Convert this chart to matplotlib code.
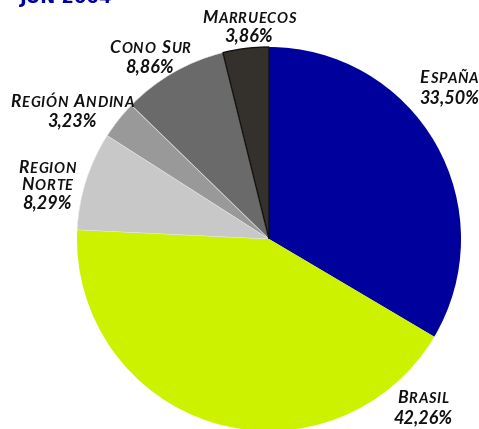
import matplotlib
matplotlib.use("Agg")
import matplotlib.pyplot as plt

categories = ["España", "Brasil", "Region Norte", "Región Andina", "Cono Sur", "Marruecos"]
values = [33.50, 42.26, 8.29, 3.23, 8.86, 3.86]
value_labels = ["33,50%", "42,26%", "8,29%", "3,23%", "8,86%", "3,86%"]
label_lines = [["España"], ["Brasil"], ["Region", "Norte"], ["Región Andina"], ["Cono Sur"], ["Marruecos"]]
colors = ["#00009C", "#CCF200", "#C8C8C8", "#999999", "#6A6A6A", "#34302C"]
title = "JUN 2004"

W, H = 479, 429
fig = plt.figure(figsize=(W / 100, H / 100), dpi=100)
ax = fig.add_axes([0, 0, 1, 1])

cx, cy, R = 269, H - 239, 192
wedges, _ = ax.pie(values, colors=colors, startangle=90, counterclock=False,
                   center=(cx, cy), radius=R, frame=True,
                   wedgeprops=dict(edgecolor="#e8e8e8", linewidth=0.4))
wedges[0].set_edgecolor("none")
wedges[1].set_edgecolor("none")
wedges[-1].set_edgecolor("#111111")
wedges[-1].set_linewidth(1.0)
ax.set_xlim(0, W)
ax.set_ylim(0, H)
ax.set_aspect("auto")
ax.axis("off")

FONT = "Lato"
renderer = fig.canvas.get_renderer()


def smallcaps(xc, y, s, big=12.5, small=10.5, track=0.7):
    texts = []
    x = 0.0
    for ch in s:
        if ch.isalpha() and not ch.isupper():
            sz, t = small, ch.upper()
        else:
            sz, t = big, ch
        tx = ax.text(x, y, t, fontsize=sz, fontfamily=FONT, fontweight="bold",
                     fontstyle="italic", color="#111111", va="baseline", ha="left")
        if t == " ":
            w = 0.28 * sz * 100 / 72
        else:
            w = tx.get_window_extent(renderer).width
        texts.append((tx, x))
        x += w + track
    total = x - track
    for tx, x0 in texts:
        tx.set_x(xc - total / 2 + x0)


# label positions (centre x, baseline y of first line, in pixels from top)
label_pos = [(449, 83), (423, 403), (47, 173), (72, 107), (150, 53), (249, 23)]
line_h = [20, 20, 17.5, 19, 19, 18]
for lines, val, (lx, ly), lh in zip(label_lines, value_labels, label_pos, line_h):
    yb = ly
    for ln in lines:
        smallcaps(lx, H - yb, ln)
        yb += lh
    ax.text(lx, H - yb, val, fontsize=13, fontfamily=FONT, fontweight="bold",
            fontstyle="italic", color="#111111", va="baseline", ha="center")

ax.text(20, H - 3, title, fontsize=13, fontfamily="DejaVu Sans", fontweight="bold",
        color="#0000A0", va="baseline", ha="left")

fig.savefig("out.png", dpi=100)
